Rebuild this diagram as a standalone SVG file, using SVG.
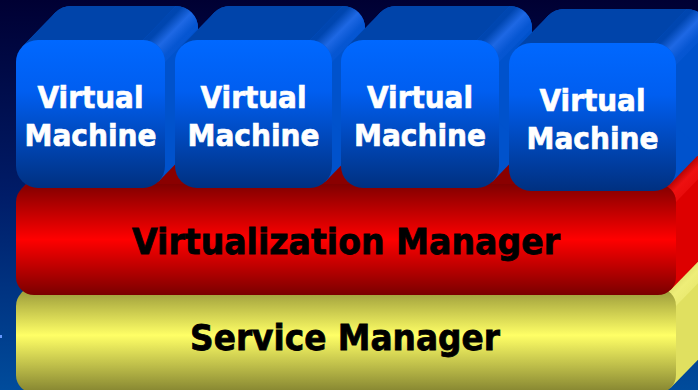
<svg xmlns="http://www.w3.org/2000/svg" width="698" height="390" viewBox="0 0 698 390">
  <defs>
    <linearGradient id="bg" x1="0" y1="0" x2="0" y2="1">
      <stop offset="0" stop-color="#000033"/>
      <stop offset="0.5" stop-color="#001c68"/>
      <stop offset="1" stop-color="#004c9c"/>
    </linearGradient>
    <linearGradient id="vmFront" x1="0" y1="0" x2="0" y2="1">
      <stop offset="0" stop-color="#0068ff"/>
      <stop offset="0.35" stop-color="#005ef0"/>
      <stop offset="1" stop-color="#003080"/>
    </linearGradient>
    <linearGradient id="vmCorner" x1="0" y1="0" x2="1" y2="1">
      <stop offset="0" stop-color="#0044aa"/>
      <stop offset="0.36" stop-color="#0046b0"/>
      <stop offset="0.5" stop-color="#1e68e4"/>
      <stop offset="0.64" stop-color="#0656d2"/>
      <stop offset="1" stop-color="#0052cc"/>
    </linearGradient>
    <linearGradient id="redFront" x1="0" y1="0" x2="0" y2="1">
      <stop offset="0" stop-color="#800000"/>
      <stop offset="0.5" stop-color="#ff0000"/>
      <stop offset="1" stop-color="#7a0000"/>
    </linearGradient>
    <linearGradient id="redCorner" x1="0" y1="0" x2="1" y2="1">
      <stop offset="0" stop-color="#8a0000"/>
      <stop offset="0.4" stop-color="#a00000"/>
      <stop offset="0.55" stop-color="#ee1010"/>
      <stop offset="1" stop-color="#dd0000"/>
    </linearGradient>
    <linearGradient id="yelFront" x1="0" y1="0" x2="0" y2="1">
      <stop offset="0" stop-color="#969638"/>
      <stop offset="0.45" stop-color="#ffff66"/>
      <stop offset="1" stop-color="#838330"/>
    </linearGradient>
    <linearGradient id="yelCorner" x1="0" y1="0" x2="1" y2="1">
      <stop offset="0" stop-color="#b0b040"/>
      <stop offset="0.55" stop-color="#eeee78"/>
      <stop offset="1" stop-color="#e0e060"/>
    </linearGradient>
  </defs>
  <style>
    .vmSide { fill: #0052cc; }
    .vmTop { fill: #0044aa; }
    .vmCorner { fill: url(#vmCorner); }
    .vmFront { fill: url(#vmFront); }
    .redSide { fill: #dd0000; }
    .redTop { fill: #8a0000; }
    .redCorner { fill: url(#redCorner); }
    .redFront { fill: url(#redFront); }
    .yelSide { fill: #e0e060; }
    .yelTop { fill: #b0b040; }
    .yelCorner { fill: url(#yelCorner); }
    .yelFront { fill: url(#yelFront); }
    .vmText { font-family: "DejaVu Sans", "Noto Sans", sans-serif; font-weight: bold; font-size: 31px; fill: #ffffff; stroke: #ffffff; stroke-width: 0.7px; text-anchor: middle; }
    .barText { font-family: "DejaVu Sans", "Noto Sans", sans-serif; font-weight: bold; font-size: 36px; fill: #000000; stroke: #000000; stroke-width: 0.8px; text-anchor: middle; }
  </style>

  <rect x="0" y="0" width="698" height="390" fill="url(#bg)"/>
  <rect x="0" y="335" width="2" height="3" fill="#6699ff"/>

  <g id="service-manager">
    <rect class="yelSide" x="49" y="254" width="660" height="105" rx="18"/>
    <polygon class="yelSide" points="21.27,293.27 54.27,259.27 703.73,353.73 670.73,387.73"/>
    <path class="yelTop" d="M21.27,293.27 L54.27,259.27 A18,18 0 0 1 67,254 L691,254 L658,288 Z"/>
    <path class="yelCorner" d="M658,288 A18,18 0 0 1 676,306 L709,272 A18,18 0 0 0 691,254 Z"/>
    <rect class="yelFront" x="16" y="288" width="660" height="105" rx="18"/>
    <text class="barText" x="345" y="350" textLength="310" lengthAdjust="spacingAndGlyphs">Service Manager</text>
  </g>

  <g id="virtualization-manager">
    <rect class="redSide" x="49" y="150" width="660" height="111" rx="18"/>
    <polygon class="redSide" points="21.27,189.27 54.27,155.27 703.73,255.73 670.73,289.73"/>
    <path class="redTop" d="M21.27,189.27 L54.27,155.27 A18,18 0 0 1 67,150 L691,150 L658,184 Z"/>
    <path class="redCorner" d="M658,184 A18,18 0 0 1 676,202 L709,168 A18,18 0 0 0 691,150 Z"/>
    <rect class="redFront" x="16" y="184" width="660" height="111" rx="18"/>
    <text class="barText" x="346" y="254" textLength="428" lengthAdjust="spacingAndGlyphs">Virtualization Manager</text>
  </g>

  <g id="vm1">
    <rect class="vmSide" x="49" y="6" width="149" height="148" rx="22"/>
    <polygon class="vmSide" points="22.44,46.44 55.44,12.44 191.56,147.56 158.56,181.56"/>
    <path class="vmTop" d="M22.44,46.44 L55.44,12.44 A22,22 0 0 1 71,6 L176,6 L143,40 Z"/>
    <path class="vmCorner" d="M143,40 A22,22 0 0 1 165,62 L198,28 A22,22 0 0 0 176,6 Z"/>
    <rect class="vmFront" x="16" y="40" width="149" height="148" rx="22"/>
    <text class="vmText" x="90.5" y="108" textLength="106" lengthAdjust="spacingAndGlyphs">Virtual</text>
    <text class="vmText" x="90.5" y="146" textLength="132" lengthAdjust="spacingAndGlyphs">Machine</text>
  </g>

  <g id="vm2">
    <rect class="vmSide" x="208" y="6" width="157" height="148" rx="22"/>
    <polygon class="vmSide" points="181.44,46.44 214.44,12.44 358.56,147.56 325.56,181.56"/>
    <path class="vmTop" d="M181.44,46.44 L214.44,12.44 A22,22 0 0 1 230,6 L343,6 L310,40 Z"/>
    <path class="vmCorner" d="M310,40 A22,22 0 0 1 332,62 L365,28 A22,22 0 0 0 343,6 Z"/>
    <rect class="vmFront" x="175" y="40" width="157" height="148" rx="22"/>
    <text class="vmText" x="253.5" y="108" textLength="106" lengthAdjust="spacingAndGlyphs">Virtual</text>
    <text class="vmText" x="253.5" y="146" textLength="132" lengthAdjust="spacingAndGlyphs">Machine</text>
  </g>

  <g id="vm3">
    <rect class="vmSide" x="374" y="6" width="158" height="148" rx="22"/>
    <polygon class="vmSide" points="347.44,46.44 380.44,12.44 525.56,147.56 492.56,181.56"/>
    <path class="vmTop" d="M347.44,46.44 L380.44,12.44 A22,22 0 0 1 396,6 L510,6 L477,40 Z"/>
    <path class="vmCorner" d="M477,40 A22,22 0 0 1 499,62 L532,28 A22,22 0 0 0 510,6 Z"/>
    <rect class="vmFront" x="341" y="40" width="158" height="148" rx="22"/>
    <text class="vmText" x="420" y="108" textLength="106" lengthAdjust="spacingAndGlyphs">Virtual</text>
    <text class="vmText" x="420" y="146" textLength="132" lengthAdjust="spacingAndGlyphs">Machine</text>
  </g>

  <g id="vm4">
    <rect class="vmSide" x="542" y="9" width="167" height="148" rx="22"/>
    <polygon class="vmSide" points="515.44,49.44 548.44,15.44 702.56,150.56 669.56,184.56"/>
    <path class="vmTop" d="M515.44,49.44 L548.44,15.44 A22,22 0 0 1 564,9 L687,9 L654,43 Z"/>
    <path class="vmCorner" d="M654,43 A22,22 0 0 1 676,65 L709,31 A22,22 0 0 0 687,9 Z"/>
    <rect class="vmFront" x="509" y="43" width="167" height="148" rx="22"/>
    <text class="vmText" x="592.5" y="111" textLength="106" lengthAdjust="spacingAndGlyphs">Virtual</text>
    <text class="vmText" x="592.5" y="149" textLength="132" lengthAdjust="spacingAndGlyphs">Machine</text>
  </g>
</svg>
